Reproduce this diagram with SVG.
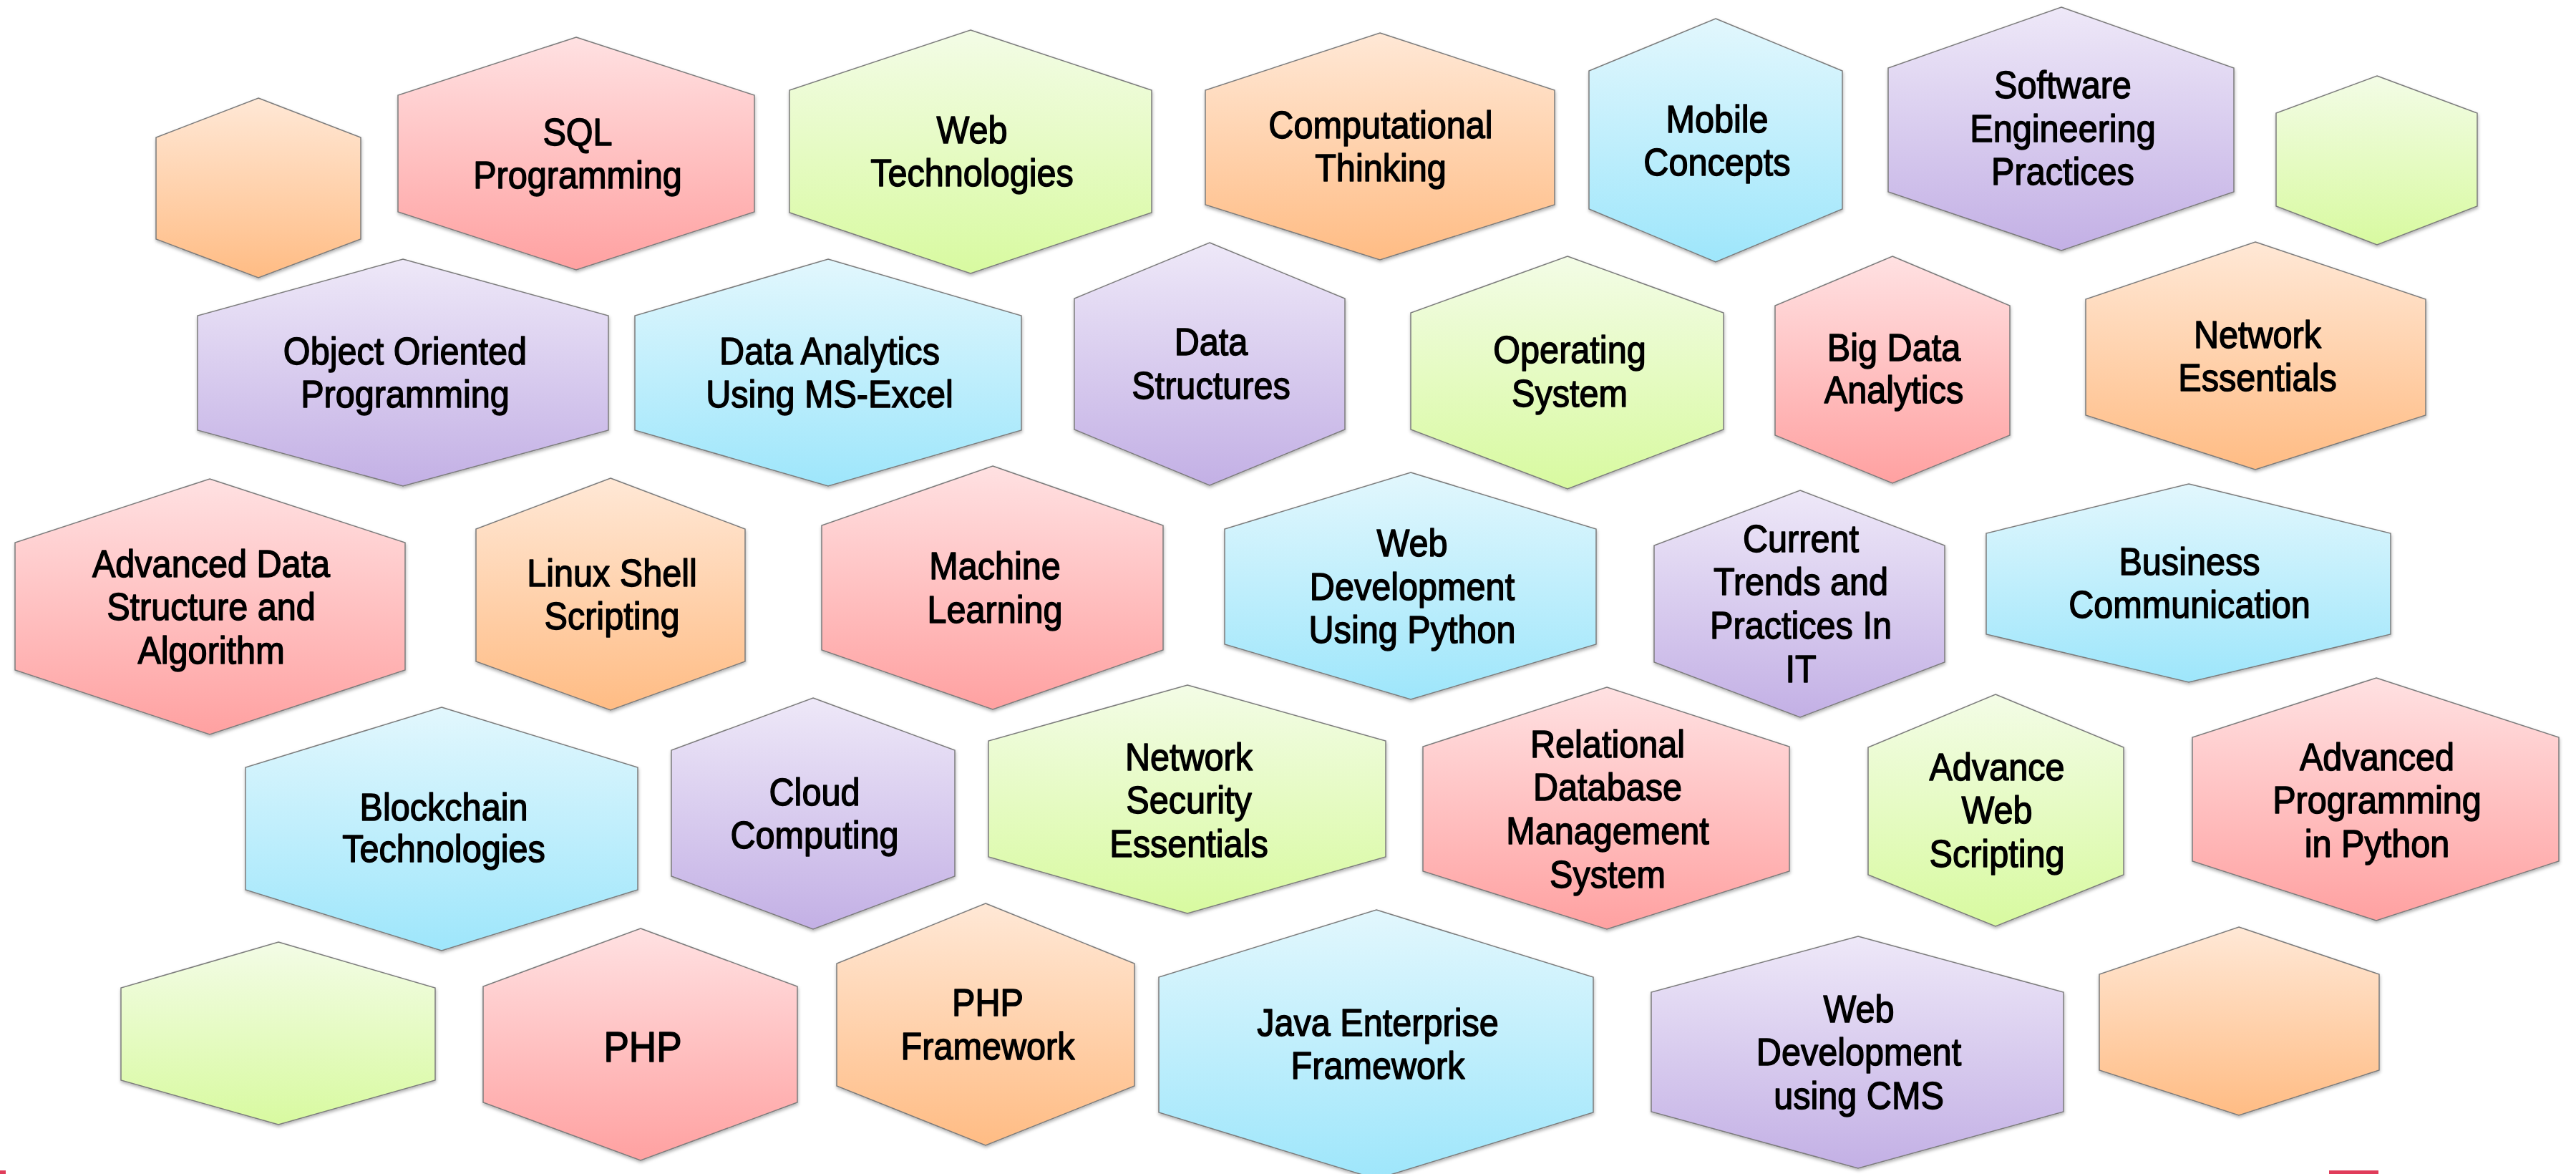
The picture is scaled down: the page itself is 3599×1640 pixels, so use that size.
<svg xmlns="http://www.w3.org/2000/svg" width="3599" height="1640" viewBox="0 0 3599 1640">
<defs>
<linearGradient id="gPink" x1="0" y1="0" x2="0" y2="1"><stop offset="0" stop-color="#FFE1E2"/><stop offset="1" stop-color="#FFA1A1"/></linearGradient>
<linearGradient id="gOrange" x1="0" y1="0" x2="0" y2="1"><stop offset="0" stop-color="#FFE8D6"/><stop offset="1" stop-color="#FFBC84"/></linearGradient>
<linearGradient id="gGreen" x1="0" y1="0" x2="0" y2="1"><stop offset="0" stop-color="#F3FCE6"/><stop offset="1" stop-color="#D8FAA0"/></linearGradient>
<linearGradient id="gBlue" x1="0" y1="0" x2="0" y2="1"><stop offset="0" stop-color="#E2F7FD"/><stop offset="1" stop-color="#9EE6FB"/></linearGradient>
<linearGradient id="gPurple" x1="0" y1="0" x2="0" y2="1"><stop offset="0" stop-color="#EEE8F8"/><stop offset="1" stop-color="#C3B0E5"/></linearGradient>
<filter id="sh" x="-5%" y="-5%" width="110%" height="115%"><feDropShadow dx="0.5" dy="2.5" stdDeviation="2" flood-color="#000" flood-opacity="0.3"/></filter>
</defs>
<style>
.hex{stroke:#7c7c7c;stroke-width:1.5;filter:url(#sh)}
.pink{fill:url(#gPink)}
.orange{fill:url(#gOrange)}
.green{fill:url(#gGreen)}
.blue{fill:url(#gBlue)}
.purple{fill:url(#gPurple)}
.t{font-family:"Liberation Sans",Arial,sans-serif;font-size:54px;fill:#000;stroke:#000;stroke-width:1.5;stroke-linejoin:round;text-anchor:middle}
.big{font-size:59px}
.mark{fill:#E03C5A}
</style>
<rect width="3599" height="1640" fill="#FFFFFF"/>
<g id="connectors"></g>

<g id="n-empty-orange-1"><polygon class="hex orange" points="361,137 504,192 504,334 361,388 218,334 218,192"/></g>
<g id="n-sql"><polygon class="hex pink" points="805,52 1054,133 1054,296 805,377 556,296 556,133"/>
<text class="t" transform="translate(807,0) scale(0.9,1)"><tspan x="0" y="203">SQL</tspan><tspan x="0" y="263">Programming</tspan></text></g>
<g id="n-oop"><polygon class="hex purple" points="563,362 850,441 850,601 563,679 276,601 276,441"/>
<text class="t" transform="translate(566,0) scale(0.9,1)"><tspan x="0" y="509">Object Oriented</tspan><tspan x="0" y="569">Programming</tspan></text></g>
<g id="n-excel"><polygon class="hex blue" points="1157,362 1427,441 1427,601 1157,679 887,601 887,441"/>
<text class="t" transform="translate(1159,0) scale(0.9,1)"><tspan x="0" y="509">Data Analytics</tspan><tspan x="0" y="569">Using MS-Excel</tspan></text></g>
<g id="n-webtech"><polygon class="hex green" points="1356,42 1609,126 1609,297 1356,382 1103,297 1103,126"/>
<text class="t" transform="translate(1358,0) scale(0.9,1)"><tspan x="0" y="200">Web</tspan><tspan x="0" y="260">Technologies</tspan></text></g>
<g id="n-comp"><polygon class="hex orange" points="1928,46 2172,126 2172,286 1928,363 1684,286 1684,126"/>
<text class="t" transform="translate(1929,0) scale(0.9,1)"><tspan x="0" y="193">Computational</tspan><tspan x="0" y="253">Thinking</tspan></text></g>
<g id="n-mobile"><polygon class="hex blue" points="2397,26 2574,99 2574,292 2397,366 2220,292 2220,99"/>
<text class="t" transform="translate(2399,0) scale(0.9,1)"><tspan x="0" y="185">Mobile</tspan><tspan x="0" y="245">Concepts</tspan></text></g>
<g id="n-ds"><polygon class="hex purple" points="1690,339 1879,417 1879,600 1690,678 1501,600 1501,417"/>
<text class="t" transform="translate(1692,0) scale(0.9,1)"><tspan x="0" y="496">Data</tspan><tspan x="0" y="557">Structures</tspan></text></g>
<g id="n-os"><polygon class="hex green" points="2190,358 2408,437 2408,600 2190,683 1971,600 1971,437"/>
<text class="t" transform="translate(2193,0) scale(0.9,1)"><tspan x="0" y="507">Operating</tspan><tspan x="0" y="568">System</tspan></text></g>
<g id="n-se"><polygon class="hex purple" points="2880,10 3121,95 3121,268 2880,350 2638,268 2638,95"/>
<text class="t" transform="translate(2882,0) scale(0.9,1)"><tspan x="0" y="137">Software</tspan><tspan x="0" y="198">Engineering</tspan><tspan x="0" y="258">Practices</tspan></text></g>
<g id="n-empty-green-1"><polygon class="hex green" points="3321,106 3461,158 3461,288 3321,342 3180,288 3180,158"/></g>
<g id="n-bigdata"><polygon class="hex pink" points="2644,358 2808,427 2808,608 2644,675 2480,608 2480,427"/>
<text class="t" transform="translate(2646,0) scale(0.9,1)"><tspan x="0" y="504">Big Data</tspan><tspan x="0" y="563">Analytics</tspan></text></g>
<g id="n-netess"><polygon class="hex orange" points="3151,338 3389,418 3389,580 3151,656 2914,580 2914,418"/>
<text class="t" transform="translate(3154,0) scale(0.9,1)"><tspan x="0" y="486">Network</tspan><tspan x="0" y="546">Essentials</tspan></text></g>

<g id="n-adsa"><polygon class="hex pink" points="293,669 566,758 566,936 293,1026 21,936 21,758"/>
<text class="t" transform="translate(295,0) scale(0.9,1)"><tspan x="0" y="806">Advanced Data</tspan><tspan x="0" y="866">Structure and</tspan><tspan x="0" y="927">Algorithm</tspan></text></g>
<g id="n-linux"><polygon class="hex orange" points="853,668 1041,739 1041,924 853,992 665,924 665,739"/>
<text class="t" transform="translate(855,0) scale(0.9,1)"><tspan x="0" y="819">Linux Shell</tspan><tspan x="0" y="879">Scripting</tspan></text></g>
<g id="n-ml"><polygon class="hex pink" points="1387,651 1625,734 1625,908 1387,991 1148,908 1148,734"/>
<text class="t" transform="translate(1390,0) scale(0.9,1)"><tspan x="0" y="809">Machine</tspan><tspan x="0" y="870">Learning</tspan></text></g>
<g id="n-webpy"><polygon class="hex blue" points="1971,660 2230,739 2230,900 1971,977 1711,900 1711,739"/>
<text class="t" transform="translate(1973,0) scale(0.9,1)"><tspan x="0" y="777">Web</tspan><tspan x="0" y="838">Development</tspan><tspan x="0" y="898">Using Python</tspan></text></g>
<g id="n-trends"><polygon class="hex purple" points="2515,685 2717,762 2717,925 2515,1002 2311,925 2311,762"/>
<text class="t" transform="translate(2516,0) scale(0.9,1)"><tspan x="0" y="771">Current</tspan><tspan x="0" y="831">Trends and</tspan><tspan x="0" y="892">Practices In</tspan><tspan x="0" y="953">IT</tspan></text></g>
<g id="n-business"><polygon class="hex blue" points="3058,676 3340,745 3340,886 3058,953 2775,886 2775,745"/>
<text class="t" transform="translate(3059,0) scale(0.9,1)"><tspan x="0" y="803">Business</tspan><tspan x="0" y="863">Communication</tspan></text></g>

<g id="n-blockchain"><polygon class="hex blue" points="617,988 891,1072 891,1243 617,1328 343,1243 343,1072"/>
<text class="t" transform="translate(620,0) scale(0.9,1)"><tspan x="0" y="1146">Blockchain</tspan><tspan x="0" y="1204">Technologies</tspan></text></g>
<g id="n-cloud"><polygon class="hex purple" points="1136,975 1334,1048 1334,1224 1136,1298 938,1224 938,1048"/>
<text class="t" transform="translate(1138,0) scale(0.9,1)"><tspan x="0" y="1125">Cloud</tspan><tspan x="0" y="1185">Computing</tspan></text></g>
<g id="n-netsec"><polygon class="hex green" points="1659,957 1936,1035 1936,1197 1659,1276 1381,1197 1381,1035"/>
<text class="t" transform="translate(1661,0) scale(0.9,1)"><tspan x="0" y="1076">Network</tspan><tspan x="0" y="1136">Security</tspan><tspan x="0" y="1197">Essentials</tspan></text></g>
<g id="n-rdbms"><polygon class="hex pink" points="2245,960 2500,1043 2500,1217 2245,1298 1988,1217 1988,1043"/>
<text class="t" transform="translate(2246,0) scale(0.9,1)"><tspan x="0" y="1058">Relational</tspan><tspan x="0" y="1118">Database</tspan><tspan x="0" y="1179">Management</tspan><tspan x="0" y="1240">System</tspan></text></g>
<g id="n-advweb"><polygon class="hex green" points="2788,970 2967,1044 2967,1222 2788,1294 2610,1222 2610,1044"/>
<text class="t" transform="translate(2790,0) scale(0.9,1)"><tspan x="0" y="1090">Advance</tspan><tspan x="0" y="1150">Web</tspan><tspan x="0" y="1211">Scripting</tspan></text></g>
<g id="n-advpy"><polygon class="hex pink" points="3320,947 3575,1030 3575,1203 3320,1286 3063,1203 3063,1030"/>
<text class="t" transform="translate(3321,0) scale(0.9,1)"><tspan x="0" y="1076">Advanced</tspan><tspan x="0" y="1136">Programming</tspan><tspan x="0" y="1197">in Python</tspan></text></g>

<g id="n-empty-green-2"><polygon class="hex green" points="389,1316 608,1380 608,1509 389,1571 169,1509 169,1380"/></g>
<g id="n-php"><polygon class="hex pink" points="895,1297 1114,1378 1114,1540 895,1621 675,1540 675,1378"/>
<text class="t big" transform="translate(898,0) scale(0.9,1)"><tspan x="0" y="1483">PHP</tspan></text></g>
<g id="n-phpfw"><polygon class="hex orange" points="1377,1262 1585,1346 1585,1517 1377,1600 1169,1517 1169,1346"/>
<text class="t" transform="translate(1380,0) scale(0.9,1)"><tspan x="0" y="1419">PHP</tspan><tspan x="0" y="1480">Framework</tspan></text></g>
<g id="n-java"><polygon class="hex blue" points="1923,1271 2226,1365 2226,1554 1923,1647 1619,1554 1619,1365"/>
<text class="t" transform="translate(1925,0) scale(0.9,1)"><tspan x="0" y="1447">Java Enterprise</tspan><tspan x="0" y="1507">Framework</tspan></text></g>
<g id="n-cms"><polygon class="hex purple" points="2596,1308 2883,1386 2883,1553 2596,1632 2307,1553 2307,1386"/>
<text class="t" transform="translate(2597,0) scale(0.9,1)"><tspan x="0" y="1428">Web</tspan><tspan x="0" y="1488">Development</tspan><tspan x="0" y="1549">using CMS</tspan></text></g>
<g id="n-empty-orange-2"><polygon class="hex orange" points="3128,1295 3324,1361 3324,1495 3128,1558 2933,1495 2933,1361"/></g>

<rect class="mark" x="0" y="1635" width="8" height="5"/>
<rect class="mark" x="3254" y="1635" width="69" height="5"/>
</svg>
